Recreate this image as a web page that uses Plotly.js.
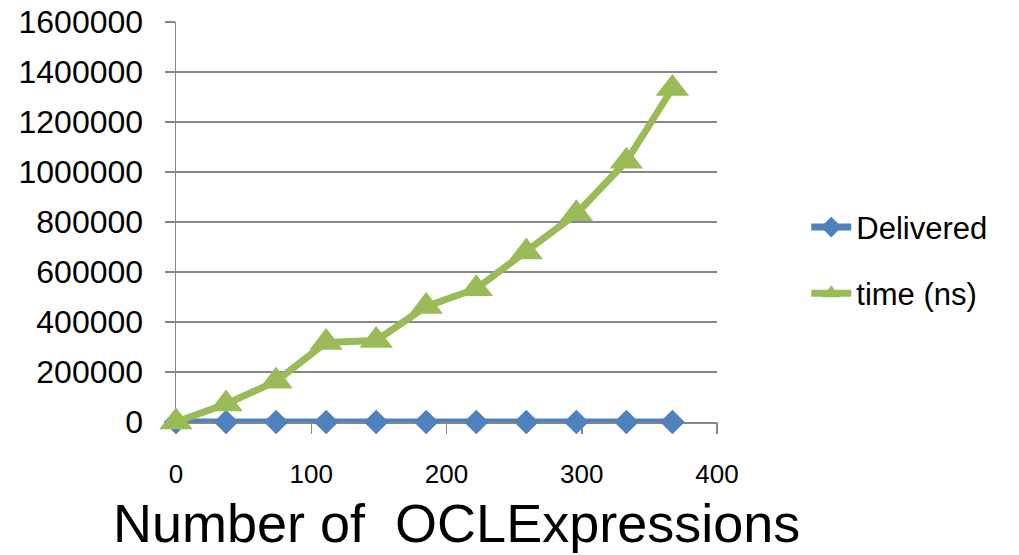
<!DOCTYPE html>
<html>
<head>
<meta charset="utf-8">
<script src="https://cdn.plot.ly/plotly-3.0.1.min.js"></script>
<style>html,body{margin:0;padding:0;background:#fff;}#chart{width:1019px;height:555px;}</style>
</head>
<body>
<div id="chart"></div>
<script>
const xValues = [0, 37, 74, 111, 148, 185, 222, 259, 296, 333, 367];
const delivered = [0, 0, 0, 0, 0, 0, 0, 0, 0, 0, 0];
const timeNs = [0, 72000, 163000, 318000, 326000, 462000, 533000, 680000, 833000, 1043000, 1334000];
const seriesNames = ["Delivered", "time (ns)"];
const xTicks = [0, 100, 200, 300, 400];
const yTicks = [0, 200000, 400000, 600000, 800000, 1000000, 1200000, 1400000, 1600000];
const xTitle = "Number of &nbsp;OCLExpressions";

const traces = [
  {x: xValues, y: delivered, name: seriesNames[0], legendgroup: "a", type: "scatter", mode: "lines+markers",
   cliponaxis: false,
   line: {color: "#4F81BD", width: 7}, marker: {symbol: "diamond", size: 19, color: "#4F81BD"}},
  {x: xValues, y: timeNs, name: seriesNames[1], legendgroup: "b", type: "scatter", mode: "lines+markers",
   cliponaxis: false,
   line: {color: "#9BBB59", width: 7}, marker: {symbol: "triangle-up", size: 29, color: "#9BBB59"}}
];

const layout = {
  width: 1019, height: 555,
  margin: {l: 176, r: 302, t: 22, b: 133, pad: 0},
  paper_bgcolor: "#ffffff", plot_bgcolor: "#ffffff",
  font: {family: "Liberation Sans, Arial, sans-serif", color: "#000"},
  showlegend: true,
  legend: {x: 1.165, xanchor: "left", y: 0.404, yanchor: "middle", font: {size: 31, color: "#000"},
           traceorder: "grouped", tracegroupgap: 23, itemwidth: 40, bgcolor: "rgba(0,0,0,0)"},
  xaxis: {range: [0, 400], tickvals: xTicks, ticktext: xTicks.map(String), showgrid: false, zeroline: false,
          showline: true, linecolor: "#868686", linewidth: 1.5, ticks: "outside", ticklen: 10, tickcolor: "#868686",
          tickwidth: 1.5, tickfont: {size: 26}, ticklabelstandoff: 18, layer: "below traces"},
  yaxis: {range: [0, 1600000], tickvals: yTicks, ticktext: yTicks.map(String), showgrid: true, gridcolor: "#868686",
          gridwidth: 1.5, zeroline: false, showline: true, linecolor: "#868686", linewidth: 1.5,
          ticks: "outside", ticklen: 10, tickcolor: "#868686", tickwidth: 1.5, tickfont: {size: 32},
          ticklabelstandoff: 15, layer: "below traces"},
  annotations: [{text: xTitle, xref: "paper", yref: "paper", x: 0.5176, y: -0.252, xanchor: "center",
                 yanchor: "middle", showarrow: false, font: {size: 54, color: "#000"}}],
  shapes: [{type: "line", xref: "paper", yref: "paper", x0: 1, x1: 1, y0: 0, y1: -0.025,
            layer: "below", line: {color: "#868686", width: 1.5}}]
};
Plotly.newPlot("chart", traces, layout, {staticPlot: true, displayModeBar: false});
</script>
</body>
</html>
